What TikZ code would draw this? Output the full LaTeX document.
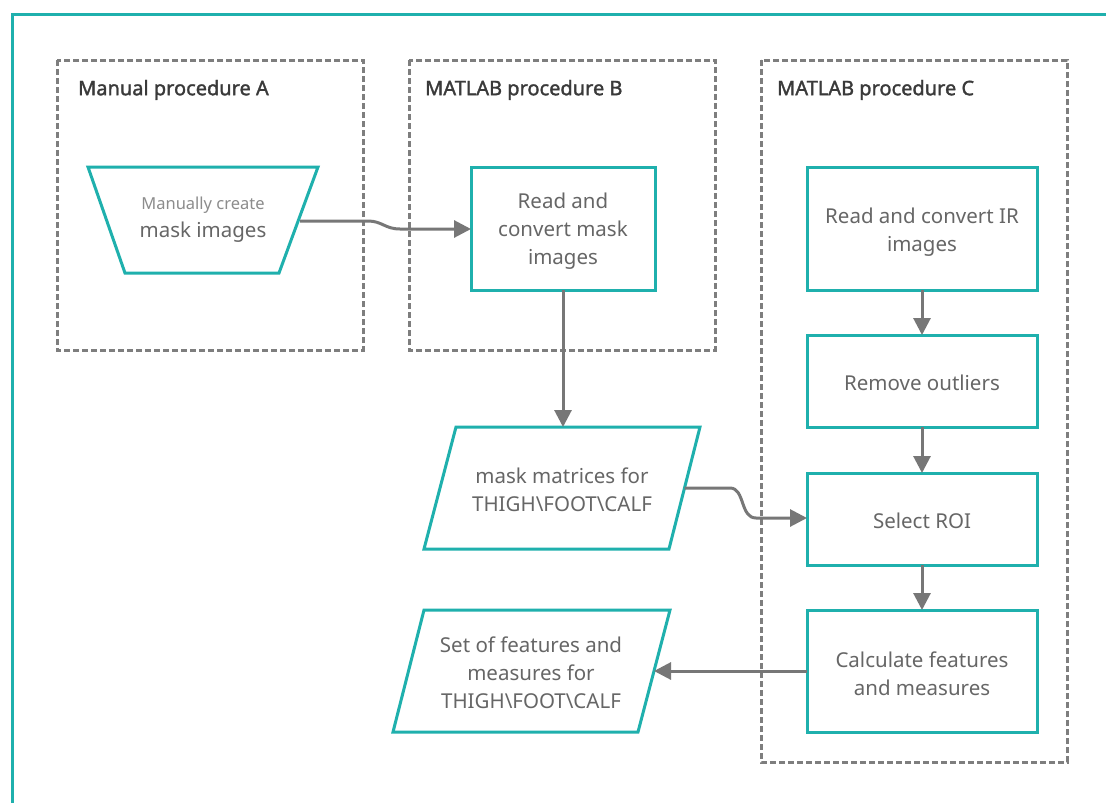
\documentclass[tikz,border=0pt]{standalone}
\usepackage{fontspec}
\setmainfont{Noto Sans}
\newfontfamily\titlefont{Noto Sans}[FakeBold=1.6]
\usetikzlibrary{arrows.meta}
\definecolor{tealc}{HTML}{1FB0AD}
\definecolor{dashc}{HTML}{7E7E7E}
\definecolor{arrc}{HTML}{777777}
\definecolor{txtc}{HTML}{666666}
\definecolor{titc}{HTML}{3A3A3A}
\tikzset{
  outer/.style={draw=tealc, line width=3pt},
  group/.style={draw=dashc, line width=3pt, dash pattern=on 6pt off 3pt},
  shapeline/.style={draw=tealc, line width=3pt, fill=white, line join=miter},
  title/.style={anchor=west, font=\titlefont\fontsize{20}{24}\selectfont, text=titc, inner sep=0pt},
  label/.style={align=center, font=\fontsize{20.5}{28}\selectfont, text=txtc, inner sep=0pt},
  conn/.style={draw=arrc, line width=3pt, -{Triangle[length=17pt,width=17pt]}},
}
\begin{document}
\begin{tikzpicture}[x=1pt,y=-1pt]
\useasboundingbox (0,0) rectangle (1106,803);
\clip (0,0) rectangle (1106,803);
\fill[white] (0,0) rectangle (1106,803);
\draw[outer] (12,14) rectangle (1130,830);

% groups
\draw[group] (57,60) rectangle (363,350);
\draw[group] (409,60) rectangle (715,350);
\draw[group] (761,60) rectangle (1067,762);
\node[title] (tA) at (78,90) {Manual procedure A};
\node[title] (tB) at (425,90) {MATLAB procedure B};
\node[title] (tC) at (777,90) {MATLAB procedure C};

% A: trapezoid
\draw[shapeline] (88,167) -- (318,167) -- (279,273) -- (125,273) -- cycle;
\coordinate (trapR) at (300,221);
\node[label] (manual) at (203,220) {{\fontsize{16.5}{28}\selectfont\color{gray!90}Manually create}\\mask images};

% B
\draw[shapeline] (471,167) rectangle (655,290);
\node[label] (readmask) at (563,231) {Read and\\convert mask\\images};
\coordinate (readmaskW) at (471,229);
\coordinate (readmaskS) at (563,290);

% mask matrices parallelogram
\draw[shapeline] (456,427) -- (700,427) -- (669,549) -- (424,549) -- cycle;
\node[label] (maskmat) at (562,490) {mask matrices for\\THIGH\textbackslash FOOT\textbackslash CALF};
\coordinate (maskmatN) at (563,427);
\coordinate (maskmatE) at (684.5,488);

% set of features parallelogram
\draw[shapeline] (424,610) -- (670,610) -- (638,732) -- (393,732) -- cycle;
\node[label] (features) at (531,673) {Set of features and\\measures for\\THIGH\textbackslash FOOT\textbackslash CALF};
\coordinate (featuresE) at (654,671);

% C column
\draw[shapeline] (807,167) rectangle (1037,290);
\node[label] (readir) at (922,232) {Read and convert IR\\images};
\draw[shapeline] (807,335) rectangle (1037,427);
\node[label] (outliers) at (922,383) {Remove outliers};
\draw[shapeline] (807,473) rectangle (1037,565);
\node[label] (roi) at (922,521) {Select ROI};
\draw[shapeline] (807,610) rectangle (1037,732);
\node[label] (calc) at (922,674) {Calculate features\\and measures};
\coordinate (readirS) at (922,290);
\coordinate (outliersN) at (922,335);
\coordinate (outliersS) at (922,427);
\coordinate (roiN) at (922,473);
\coordinate (roiS) at (922,565);
\coordinate (roiW) at (807,518);
\coordinate (calcN) at (922,610);
\coordinate (calcW) at (807,671);

% connectors
\draw[conn] (trapR) -- (368,221) .. controls (382,221) and (385,229) .. (400,229) -- (readmaskW);
\draw[conn] (readmaskS) -- (maskmatN);
\draw[conn] (maskmatE) -- (730,488) .. controls (745,488) and (740,518) .. (756,518) -- (roiW);
\draw[conn] (readirS) -- (outliersN);
\draw[conn] (outliersS) -- (roiN);
\draw[conn] (roiS) -- (calcN);
\draw[conn] (calcW) -- (featuresE);
\end{tikzpicture}
\end{document}
